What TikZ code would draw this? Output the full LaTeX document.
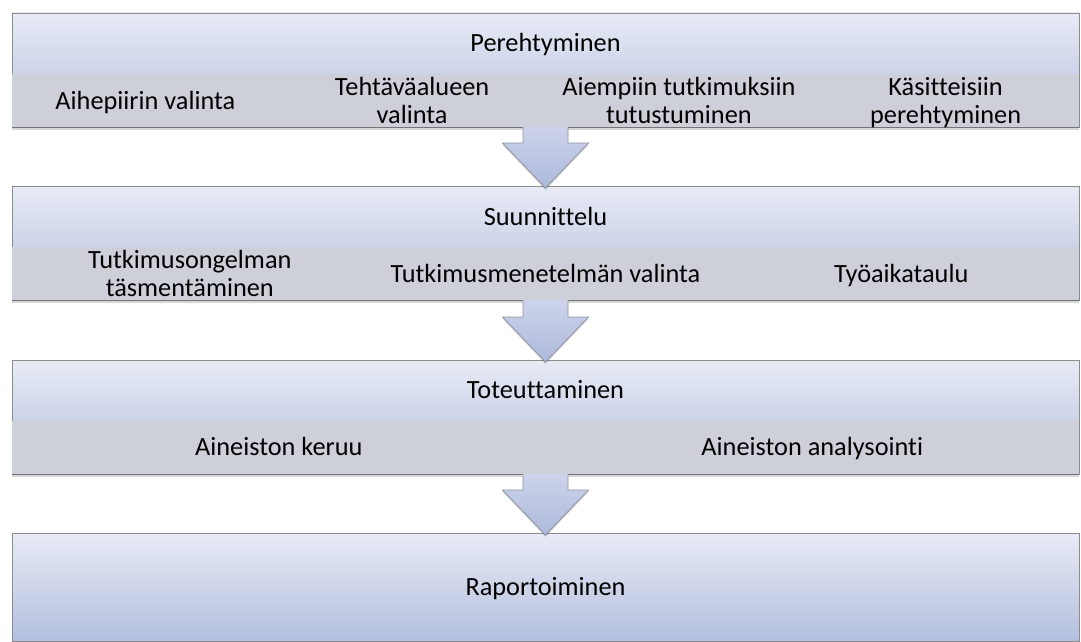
\documentclass[tikz,border=0pt]{standalone}
\usepackage{fontspec}
\setmainfont[Ligatures=CommonOff]{Carlito}
\usetikzlibrary{shadows,calc}
\definecolor{boxtop}{HTML}{E8EBF5}
\definecolor{boxbot}{HTML}{B3BFDE}
\definecolor{bandgray}{HTML}{CDD0D9}
\definecolor{bordergray}{HTML}{8C8C8C}
\definecolor{arrowtop}{HTML}{CCD3EA}
\definecolor{arrowbot}{HTML}{AEBADB}
\definecolor{arrowline}{HTML}{8E95A6}
\newcommand\ls{\vrule width 0pt height 22.5pt depth 5.5pt\relax}
\newcommand\blockarrow[2]{%
  \path[arrowbody] ($(#1)+(-22.5,0)$) -- ($(#2)+(-22.5,-43)$) -- ($(#2)+(-43,-43)$) -- ($(#2)+(0,2)$)
     -- ($(#2)+(43,-43)$) -- ($(#2)+(22.5,-43)$) -- ($(#1)+(22.5,0)$) -- cycle;
  \draw[arrowedge] ($(#1)+(-22.5,0)$) -- ($(#2)+(-22.5,-43)$) -- ($(#2)+(-43,-43)$) -- ($(#2)+(0,2)$)
     -- ($(#2)+(43,-43)$) -- ($(#2)+(22.5,-43)$) -- ($(#1)+(22.5,0)$);}
\begin{document}
\begin{tikzpicture}[x=1pt,y=-1pt,
  stage/.style={draw=bordergray, line width=0.8pt, top color=boxtop, bottom color=boxbot,
    minimum width=1067pt, anchor=north west, inner sep=0pt, outer sep=0pt},
  band/.style={fill=bandgray, minimum width=1067pt, minimum height=53pt, anchor=south west,
    inner sep=0pt, outer sep=0pt,
    drop shadow={shadow xshift=0pt, shadow yshift=-2.5pt, opacity=0.16, fill=black}},
  lbl/.style={font=\fontsize{26.3}{28}\selectfont, align=center, text=black, inner sep=0pt},
  arrowbody/.style={top color=arrowtop, bottom color=arrowbot,
    drop shadow={shadow xshift=0pt, shadow yshift=-2pt, opacity=0.15, fill=black}},
  arrowedge/.style={draw=arrowline, line width=0.8pt, line join=miter}]
\useasboundingbox (0,0) rectangle (1081,642);

% stage boxes
\node[stage, minimum height=114pt] (box1) at (12,13) {};
\node[band] (band1) at (box1.south west) {};
\node[stage, minimum height=114pt] (box2) at (12,186) {};
\node[band] (band2) at (box2.south west) {};
\node[stage, minimum height=114pt] (box3) at (12,360) {};
\node[band] (band3) at (box3.south west) {};
\node[stage, minimum height=108pt] (box4) at (12,533) {};

% titles
\node[lbl] (t1) at (545.5,43.5) {\ls Perehtyminen\ls};
\node[lbl] (t2) at (545.5,216.5) {\ls Suunnittelu\ls};
\node[lbl] (t3) at (545.5,390) {\ls Toteuttaminen\ls};
\node[lbl] (t4) at (545.5,587) {\ls Raportoiminen\ls};

% sub-steps
\node[lbl] (a1) at (145.4,100.5) {\ls Aihepiirin valinta\ls};
\node[lbl] (a2) at (412.1,100.5) {\ls Tehtäväalueen\ls\\\ls valinta\ls};
\node[lbl] (a3) at (678.9,100.5) {\ls Aiempiin tutkimuksiin\ls\\\ls tutustuminen\ls};
\node[lbl] (a4) at (945.6,100.5) {\ls Käsitteisiin\ls\\\ls perehtyminen\ls};

\node[lbl] (b1) at (189.8,273.5) {\ls Tutkimusongelman\ls\\\ls täsmentäminen\ls};
\node[lbl] (b2) at (545.5,273.5) {\ls Tutkimusmenetelmän valinta\ls};
\node[lbl] (b3) at (901.2,273.5) {\ls Työaikataulu\ls};

\node[lbl] (c1) at (278.8,447) {\ls Aineiston keruu\ls};
\node[lbl] (c2) at (812.3,447) {\ls Aineiston analysointi\ls};

% arrows
\blockarrow{band1.south}{box2.north}
\blockarrow{band2.south}{box3.north}
\blockarrow{band3.south}{box4.north}
\end{tikzpicture}
\end{document}
